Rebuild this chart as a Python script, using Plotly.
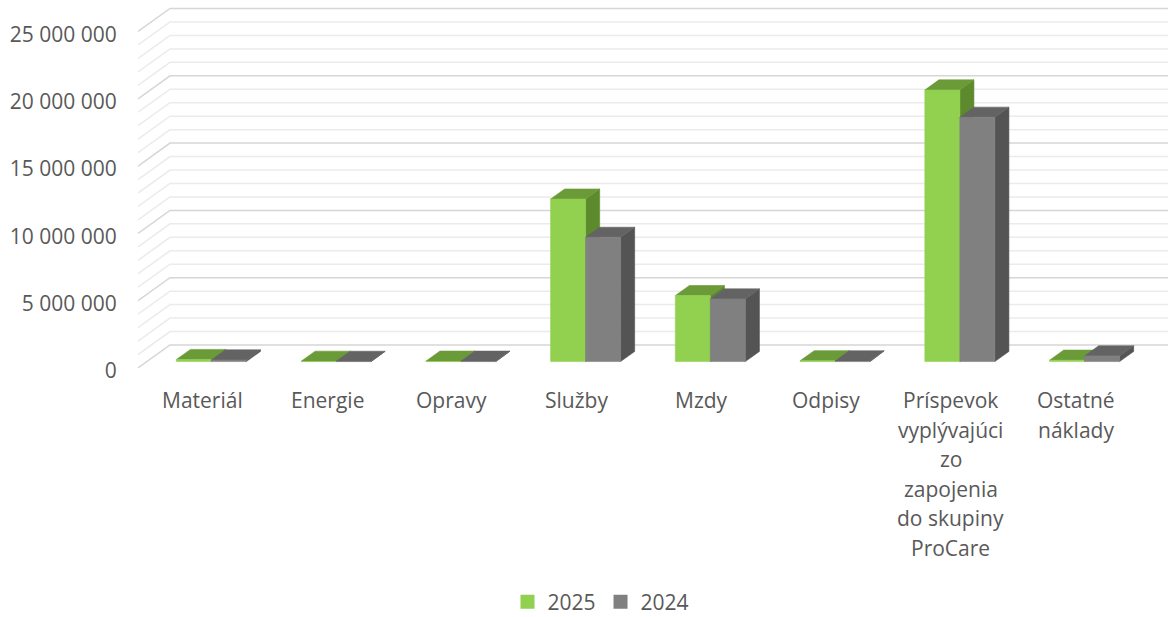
import plotly.graph_objects as go

# ---------------- data ----------------
categories = ["Materiál", "Energie", "Opravy", "Služby", "Mzdy", "Odpisy",
              "Príspevok<br>vyplývajúci<br>zo<br>zapojenia<br>do skupiny<br>ProCare",
              "Ostatné<br>náklady"]
series_names = ["2025", "2024"]
values_2025 = [150000, 20000, 30000, 12070000, 4900000, 60000, 20180000, 100000]
values_2024 = [120000, 15000, 25000, 9230000, 4650000, 50000, 18150000, 420000]
y_tick_values = [0, 5000000, 10000000, 15000000, 20000000, 25000000]
y_tick_labels = ["0", "5 000 000", "10 000 000", "15 000 000", "20 000 000", "25 000 000"]
grid_step = 1000000
grid_max = 25000000

# ---------------- styling / geometry ----------------
W, H = 1168, 617
PX_PER_CAT = 124.75
X0_PX = 140.0
PX_PER_UNIT = 13.46 / 1e6
Y0_PX = 368.0
DEPTH_DX = 32.0 / PX_PER_CAT            # depth shift in category units
DEPTH_DY = 23.0 / PX_PER_UNIT           # depth shift in value units
Z_FRONT, Z_BACK = 0.28, 0.72
BAR_W = 35.0 / PX_PER_CAT
PLOT_LEFT_PX = 138
FONT = "Open Sans"
TXT = "#595959"
LABEL_FIRST_PX = 400.0
LABEL_LINE_PX = 29.6

colors = {
    "2025": {"front": "#92D050", "top": "#6B9A39", "side": "#5E8A2E"},
    "2024": {"front": "#808080", "top": "#636363", "side": "#545454"},
}

fig = go.Figure()

# ---------------- gridlines (left wall diagonal + back wall) ----------------
x_left = (PLOT_LEFT_PX - X0_PX) / PX_PER_CAT
x_right = (W - X0_PX) / PX_PER_CAT + 0.05
maj_x, maj_y, min_x, min_y = [], [], [], []
v = 0
while v <= grid_max:
    xs = [x_left, x_left + DEPTH_DX, x_right, None]
    ys = [v, v + DEPTH_DY, v + DEPTH_DY, None]
    if v % 5000000 == 0:
        maj_x += xs; maj_y += ys
    else:
        min_x += xs; min_y += ys
    v += grid_step
fig.add_trace(go.Scatter(x=min_x, y=min_y, mode="lines", line=dict(color="#EBEBEB", width=1.5),
                         hoverinfo="skip", showlegend=False))
fig.add_trace(go.Scatter(x=maj_x, y=maj_y, mode="lines", line=dict(color="#D6D6D6", width=1.5),
                         hoverinfo="skip", showlegend=False))

# ---------------- 3D bars ----------------
def face(xs, ys, col):
    fig.add_trace(go.Scatter(x=xs + [xs[0]], y=ys + [ys[0]], mode="lines", fill="toself",
                             fillcolor=col, line=dict(color=col, width=0.6),
                             hoverinfo="skip", showlegend=False))

all_series = [values_2025, values_2024]
for i in range(len(categories)):
    for s, vals in enumerate(all_series):
        val = vals[i]
        c = colors[series_names[s]]
        xl = i + 0.5 - BAR_W + s * BAR_W
        xr = xl + BAR_W
        fx0, fy0 = Z_FRONT * DEPTH_DX, Z_FRONT * DEPTH_DY
        bx0, by0 = Z_BACK * DEPTH_DX, Z_BACK * DEPTH_DY
        # right side
        face([xr + fx0, xr + bx0, xr + bx0, xr + fx0],
             [fy0, by0, val + by0, val + fy0], c["side"])
        # top
        face([xl + fx0, xr + fx0, xr + bx0, xl + bx0],
             [val + fy0, val + fy0, val + by0, val + by0], c["top"])
        # front
        face([xl + fx0, xr + fx0, xr + fx0, xl + fx0],
             [fy0, fy0, val + fy0, val + fy0], c["front"])

# ---------------- legend entries ----------------
for name in series_names:
    fig.add_trace(go.Scatter(x=[None], y=[None], mode="markers", name=name,
                             marker=dict(symbol="square", size=14, color=colors[name]["front"])))

# ---------------- category labels (one annotation per text line) ----------------
for i, cat in enumerate(categories):
    for k, line in enumerate(cat.split("<br>")):
        py = LABEL_FIRST_PX + k * LABEL_LINE_PX
        fig.add_annotation(x=i + 0.5, y=(Y0_PX - py) / PX_PER_UNIT, xref="x", yref="y",
                           text=line, showarrow=False, xanchor="center", yanchor="middle",
                           align="center", font=dict(family=FONT, size=21, color=TXT))

fig.update_layout(
    width=W, height=H,
    margin=dict(l=PLOT_LEFT_PX, r=0, t=0, b=0, autoexpand=False),
    paper_bgcolor="white", plot_bgcolor="white",
    xaxis=dict(range=[x_left, (W - X0_PX) / PX_PER_CAT], visible=False, fixedrange=True,
               automargin=False),
    yaxis=dict(range=[(Y0_PX - H) / PX_PER_UNIT, Y0_PX / PX_PER_UNIT],
               tickvals=y_tick_values, ticktext=y_tick_labels,
               showgrid=False, zeroline=False, showline=False, automargin=False,
               ticks="outside", ticklen=16, tickcolor="rgba(0,0,0,0)", ticklabelshift=3,
               tickfont=dict(family=FONT, size=21, color=TXT), fixedrange=True),
    showlegend=True,
    legend=dict(orientation="h", xref="paper", yref="paper",
                x=(601 - PLOT_LEFT_PX) / (W - PLOT_LEFT_PX), y=-0.009,
                xanchor="center", yanchor="bottom",
                font=dict(family=FONT, size=21, color=TXT), itemwidth=30,
                bgcolor="rgba(0,0,0,0)"),
    font=dict(family=FONT, color=TXT),
)

fig.write_html("out.html", config={"displayModeBar": False},
               post_script="document.body.style.margin='0';")
